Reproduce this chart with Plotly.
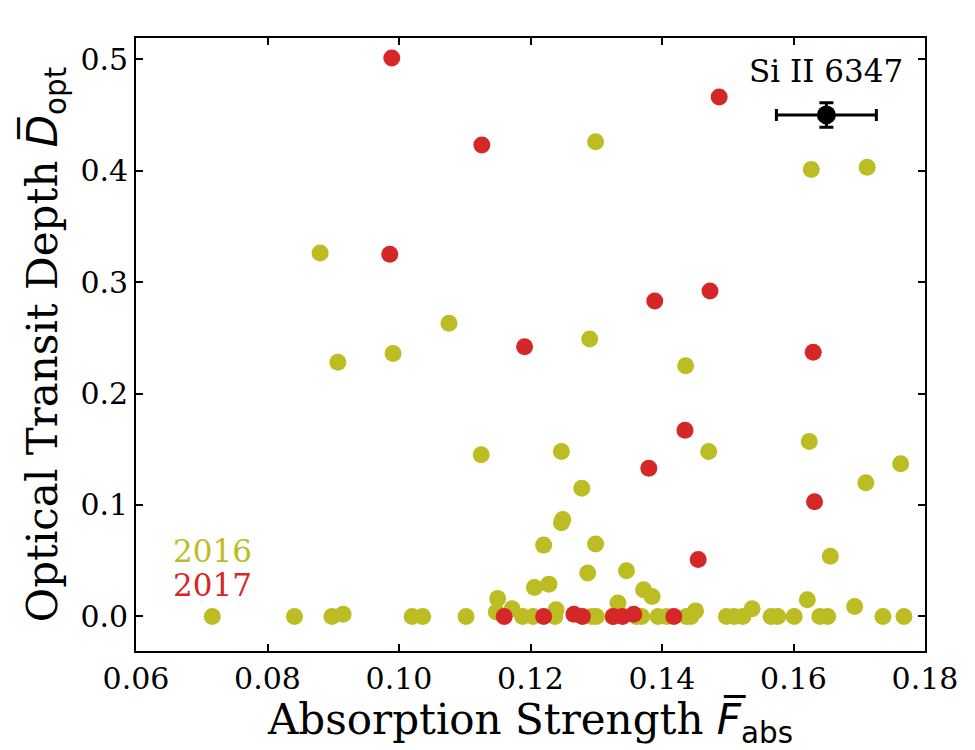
import plotly.graph_objects as go

# 2016 (olive)
x2016 = [0.0880, 0.1076, 0.1299, 0.1627, 0.1712, 0.1290, 0.0907, 0.0991, 0.1125, 0.1436,
         0.1247, 0.1471, 0.1624, 0.1763, 0.1710, 0.1278, 0.1249, 0.1247, 0.1220, 0.1299,
         0.1656, 0.1287, 0.1346, 0.1206, 0.1228, 0.1372, 0.1385, 0.1150, 0.1621, 0.1333,
         0.1693, 0.1537, 0.1172, 0.1239, 0.1451, 0.1148, 0.0915,
         0.0716, 0.0841, 0.0898, 0.1020, 0.1036, 0.1102, 0.1188, 0.1204, 0.1237, 0.1293,
         0.1300, 0.1325, 0.1361, 0.1369, 0.1394, 0.1407, 0.1437, 0.1444, 0.1498, 0.1510,
         0.1523, 0.1566, 0.1576, 0.1601, 0.1640, 0.1652, 0.1736, 0.1768]
y2016 = [0.326, 0.263, 0.426, 0.401, 0.403, 0.249, 0.228, 0.236, 0.145, 0.225,
         0.148, 0.148, 0.157, 0.137, 0.120, 0.115, 0.087, 0.084, 0.064, 0.065,
         0.054, 0.039, 0.041, 0.026, 0.029, 0.024, 0.018, 0.016, 0.015, 0.012,
         0.009, 0.007, 0.007, 0.006, 0.005, 0.004, 0.002,
         0.0, 0.0, 0.0, 0.0, 0.0, 0.0, 0.0, 0.0, 0.0, 0.0,
         0.0, 0.0, 0.0, 0.0, 0.0, 0.0, 0.0, 0.0, 0.0, 0.0,
         0.0, 0.0, 0.0, 0.0, 0.0, 0.0, 0.0, 0.0]

# 2017 (red)
x2017 = [0.0989, 0.1126, 0.0986, 0.1487, 0.1389, 0.1473, 0.1191, 0.1630, 0.1435, 0.1380,
         0.1632, 0.1455, 0.1160, 0.1220, 0.1266, 0.1279, 0.1326, 0.1340, 0.1357, 0.1418]
y2017 = [0.501, 0.423, 0.325, 0.466, 0.283, 0.292, 0.242, 0.237, 0.167, 0.133,
         0.103, 0.051, 0.0, 0.0, 0.002, 0.0, 0.0, 0.0, 0.002, 0.0]

# Representative error bar
err_x = [0.165]
err_y = [0.450]
err_dx = [0.0076]
err_dy = [0.011]
err_label = "Si II 6347"

x_ticks = [0.06, 0.08, 0.10, 0.12, 0.14, 0.16, 0.18]
x_ticklabels = ["0.06", "0.08", "0.10", "0.12", "0.14", "0.16", "0.18"]
y_ticks = [0.0, 0.1, 0.2, 0.3, 0.4, 0.5]
y_ticklabels = ["0.0", "0.1", "0.2", "0.3", "0.4", "0.5"]

OLIVE = "#bcbd22"
RED = "#d62728"
SERIF = "DejaVu Serif"

fig = go.Figure()
fig.add_trace(go.Scatter(x=x2016, y=y2016, mode="markers", name="2016",
                         marker=dict(color=OLIVE, size=17, line=dict(width=0))))
fig.add_trace(go.Scatter(x=x2017, y=y2017, mode="markers", name="2017",
                         marker=dict(color=RED, size=17, line=dict(width=0))))
fig.add_trace(go.Scatter(x=err_x, y=err_y, mode="markers", showlegend=False,
                         marker=dict(color="black", size=19),
                         error_x=dict(type="data", array=err_dx, color="black", thickness=3, width=6),
                         error_y=dict(type="data", array=err_dy, color="black", thickness=3, width=7)))

fig.add_annotation(x=err_x[0], y=0.4897, xref="x", yref="y", text=err_label, showarrow=False,
                   xanchor="center", yanchor="middle", font=dict(family=SERIF, size=31, color="black"))
fig.add_annotation(x=0.0653, y=0.0588, xref="x", yref="y", text="2016", showarrow=False,
                   xanchor="left", yanchor="middle", font=dict(family=SERIF, size=31, color=OLIVE))
fig.add_annotation(x=0.0653, y=0.0283, xref="x", yref="y", text="2017", showarrow=False,
                   xanchor="left", yanchor="middle", font=dict(family=SERIF, size=31, color=RED))

axis_common = dict(showgrid=False, zeroline=False, showline=True, linecolor="black", linewidth=1.6,
                   mirror="ticks", ticks="inside", ticklen=7, tickwidth=1.5, tickcolor="black",
                   tickfont=dict(family=SERIF, size=30, color="black"))

fig.update_xaxes(range=[0.06, 0.18], tickvals=x_ticks, ticktext=x_ticklabels,
                 title=dict(text="Absorption Strength <span style=\"font-family:'DejaVu Sans'\"><i>F\u0305</i><sub>abs</sub></span>",
                            font=dict(family=SERIF, size=42, color="black"), standoff=10),
                 **axis_common)
fig.update_yaxes(range=[-0.031, 0.519], tickvals=y_ticks, ticktext=y_ticklabels,
                 title=dict(text="Optical Transit Depth <span style=\"font-family:'DejaVu Sans'\"><i>D\u0305</i><sub>opt</sub></span>",
                            font=dict(family=SERIF, size=42, color="black"), standoff=10),
                 **axis_common)

fig.update_layout(width=975, height=750, margin=dict(l=136, r=50, t=38, b=99),
                  paper_bgcolor="white", plot_bgcolor="white", showlegend=False)

fig.write_html("out.html")
